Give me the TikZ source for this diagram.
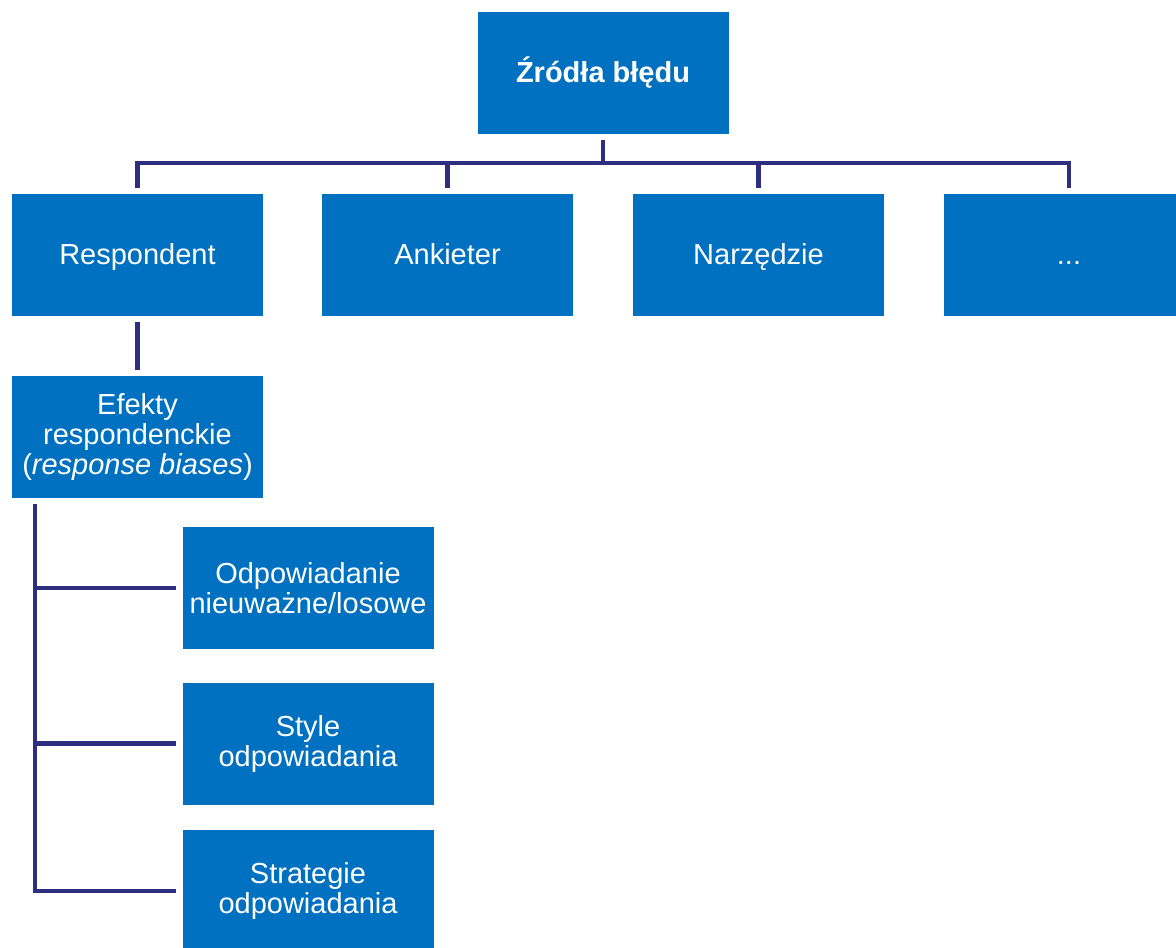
\documentclass[tikz,border=0pt]{standalone}
\usepackage{fontspec}
\setmainfont{Liberation Sans}
\definecolor{boxblue}{RGB}{0,112,192}
\definecolor{linenavy}{RGB}{46,46,128}
\begin{document}
\begin{tikzpicture}[x=1pt,y=-1pt,
  box/.style={fill=boxblue, text=white, minimum width=251pt, minimum height=122pt,
    inner sep=0pt, align=center, font=\fontsize{29}{30}\selectfont},
  oneline/.style={text height=25pt, text depth=6pt},
  conn/.style={draw=linenavy, line width=4.5pt, line join=miter}]
\useasboundingbox (0,0) rectangle (1176,948);
\clip (0,0) rectangle (1176,948);
\node[box, oneline, font=\fontsize{29}{33}\selectfont\bfseries] (root) at (603,73) {Źródła błędu};
\node[box, oneline] (resp) at (137.5,254.5) {Respondent};
\node[box, oneline] (ank) at (447.5,254.5) {Ankieter};
\node[box, oneline] (narz) at (758.5,254.5) {Narzędzie};
\node[box, oneline] (dots) at (1069,254.5) {...};
\node[box] (efe) at (137.5,437) {Efekty\\respondenckie\\(\textit{response biases})};
\node[box] (odp) at (308,588) {Odpowiadanie\\nieuważne/losowe};
\node[box] (sty) at (308,743.5) {Style\\odpowiadania};
\node[box] (str) at (308,891) {Strategie\\odpowiadania};
\coordinate (busL) at (138,163);
\coordinate (busR) at (1069,163);
\coordinate (trunk) at (35,504);
\draw[conn] ([yshift=5pt]resp.north) -- (resp.north |- busL) -- (dots.north |- busR) -- ([yshift=5pt]dots.north);
\draw[conn] ([yshift=-6pt]root.south) -- (root.south |- busL);
\draw[conn] ([yshift=5pt]ank.north) -- (ank.north |- busL);
\draw[conn] ([yshift=5pt]narz.north) -- (narz.north |- busL);
\draw[conn] ([yshift=-6pt]resp.south) -- ([yshift=6pt]efe.north);
\draw[conn] (trunk) -- (trunk |- str.west) -- ([xshift=-6pt]str.west);
\draw[conn] (trunk |- odp.west) -- ([xshift=-6pt]odp.west);
\draw[conn] (trunk |- sty.west) -- ([xshift=-6pt]sty.west);
\end{tikzpicture}
\end{document}
